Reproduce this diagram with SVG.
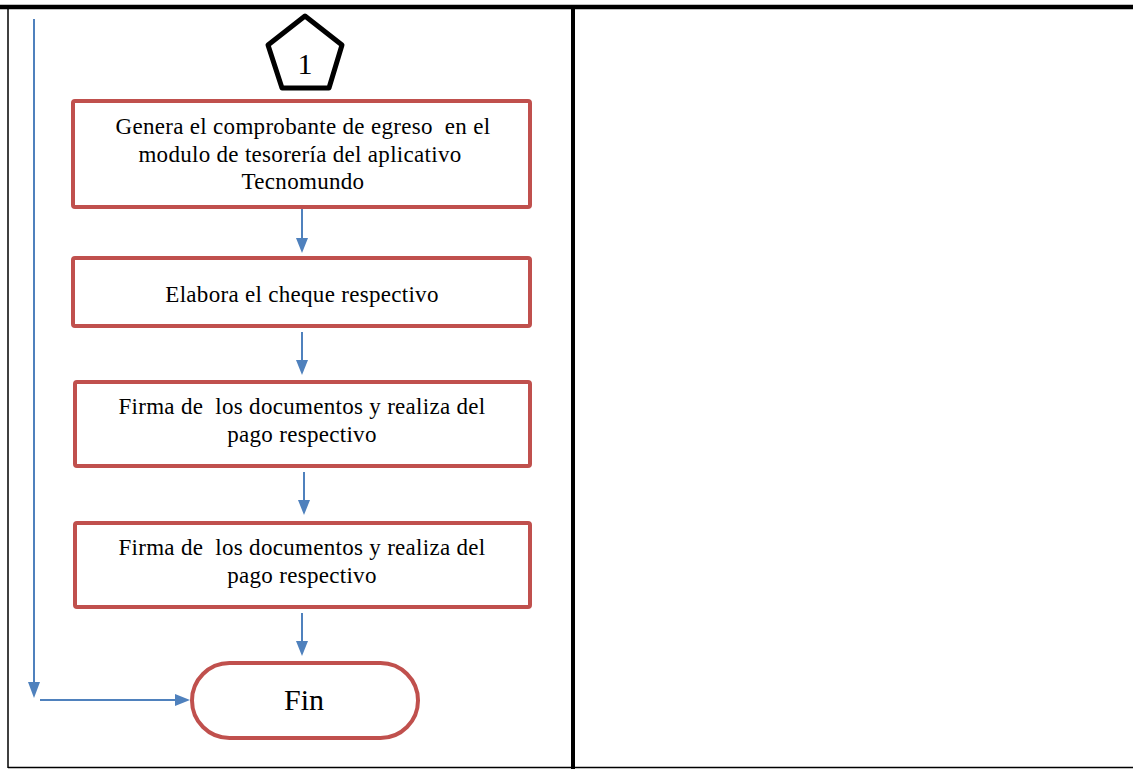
<svg xmlns="http://www.w3.org/2000/svg" width="1133" height="769" viewBox="0 0 1133 769">
  <style>
    .frame { stroke: #000; fill: none; }
    .box { fill: #fff; stroke: #C0504D; stroke-width: 4; }
    .lbl { font-family: "Liberation Serif", "Times New Roman", serif; font-size: 23px; letter-spacing: 0.3px; fill: #000; text-anchor: middle; white-space: pre; }
    .flow { stroke: #4F81BD; stroke-width: 2; fill: none; }
    .head { fill: #4F81BD; }
  </style>

  <rect width="1133" height="769" fill="#fff"/>

  <!-- table frame -->
  <g id="frame">
    <line class="frame" x1="0" y1="7" x2="1133" y2="7" stroke-width="4.5"/>
    <line class="frame" x1="8" y1="7" x2="8" y2="768" stroke-width="1.5"/>
    <line class="frame" x1="573" y1="7" x2="573" y2="769" stroke-width="4"/>
    <line class="frame" x1="8" y1="767.5" x2="1133" y2="767.5" stroke-width="1.5"/>
  </g>

  <!-- connectors -->
  <g id="connectors">
    <line class="flow" x1="302" y1="209" x2="302" y2="240"/>
    <polygon class="head" points="296,238 308,238 302,253"/>
    <line class="flow" x1="302" y1="332" x2="302" y2="362"/>
    <polygon class="head" points="296,360 308,360 302,375"/>
    <line class="flow" x1="304" y1="472" x2="304" y2="502"/>
    <polygon class="head" points="298,500 310,500 304,515"/>
    <line class="flow" x1="302" y1="613" x2="302" y2="643"/>
    <polygon class="head" points="296,641 308,641 302,656"/>
    <line class="flow" x1="34" y1="19" x2="34" y2="684"/>
    <polygon class="head" points="28,682 40,682 34,698"/>
    <line class="flow" x1="40" y1="700" x2="177" y2="700"/>
    <polygon class="head" points="175,694 175,706 190,700"/>
  </g>

  <!-- off-page connector 1 -->
  <g id="ref-1">
    <polygon points="305,16 342,45 329,88 282,88 268,45" fill="#fff" stroke="#000" stroke-width="5" stroke-linejoin="round"/>
    <text class="lbl" x="305" y="74" style="font-size:30px;letter-spacing:0">1</text>
  </g>

  <g id="step-comprobante">
    <rect class="box" x="73" y="101" width="457" height="106" rx="2"/>
    <text class="lbl" x="303" y="134">Genera el comprobante de egreso  en el</text>
    <text class="lbl" x="303" y="162">modulo de tesorería del aplicativo </text>
    <text class="lbl" x="303" y="189">Tecnomundo</text>
  </g>

  <g id="step-cheque">
    <rect class="box" x="73" y="258" width="457" height="68" rx="2"/>
    <text class="lbl" x="302" y="302">Elabora el cheque respectivo</text>
  </g>

  <g id="step-firma-1">
    <rect class="box" x="75" y="382" width="455" height="84" rx="2"/>
    <text class="lbl" x="302" y="414">Firma de  los documentos y realiza del</text>
    <text class="lbl" x="302" y="442">pago respectivo</text>
  </g>

  <g id="step-firma-2">
    <rect class="box" x="75" y="523" width="455" height="84" rx="2"/>
    <text class="lbl" x="302" y="555">Firma de  los documentos y realiza del</text>
    <text class="lbl" x="302" y="583">pago respectivo</text>
  </g>

  <g id="end">
    <rect class="box" x="192" y="663" width="226" height="75" rx="37.5"/>
    <text class="lbl" x="304" y="710" style="font-size:30px;letter-spacing:0">Fin</text>
  </g>
</svg>
